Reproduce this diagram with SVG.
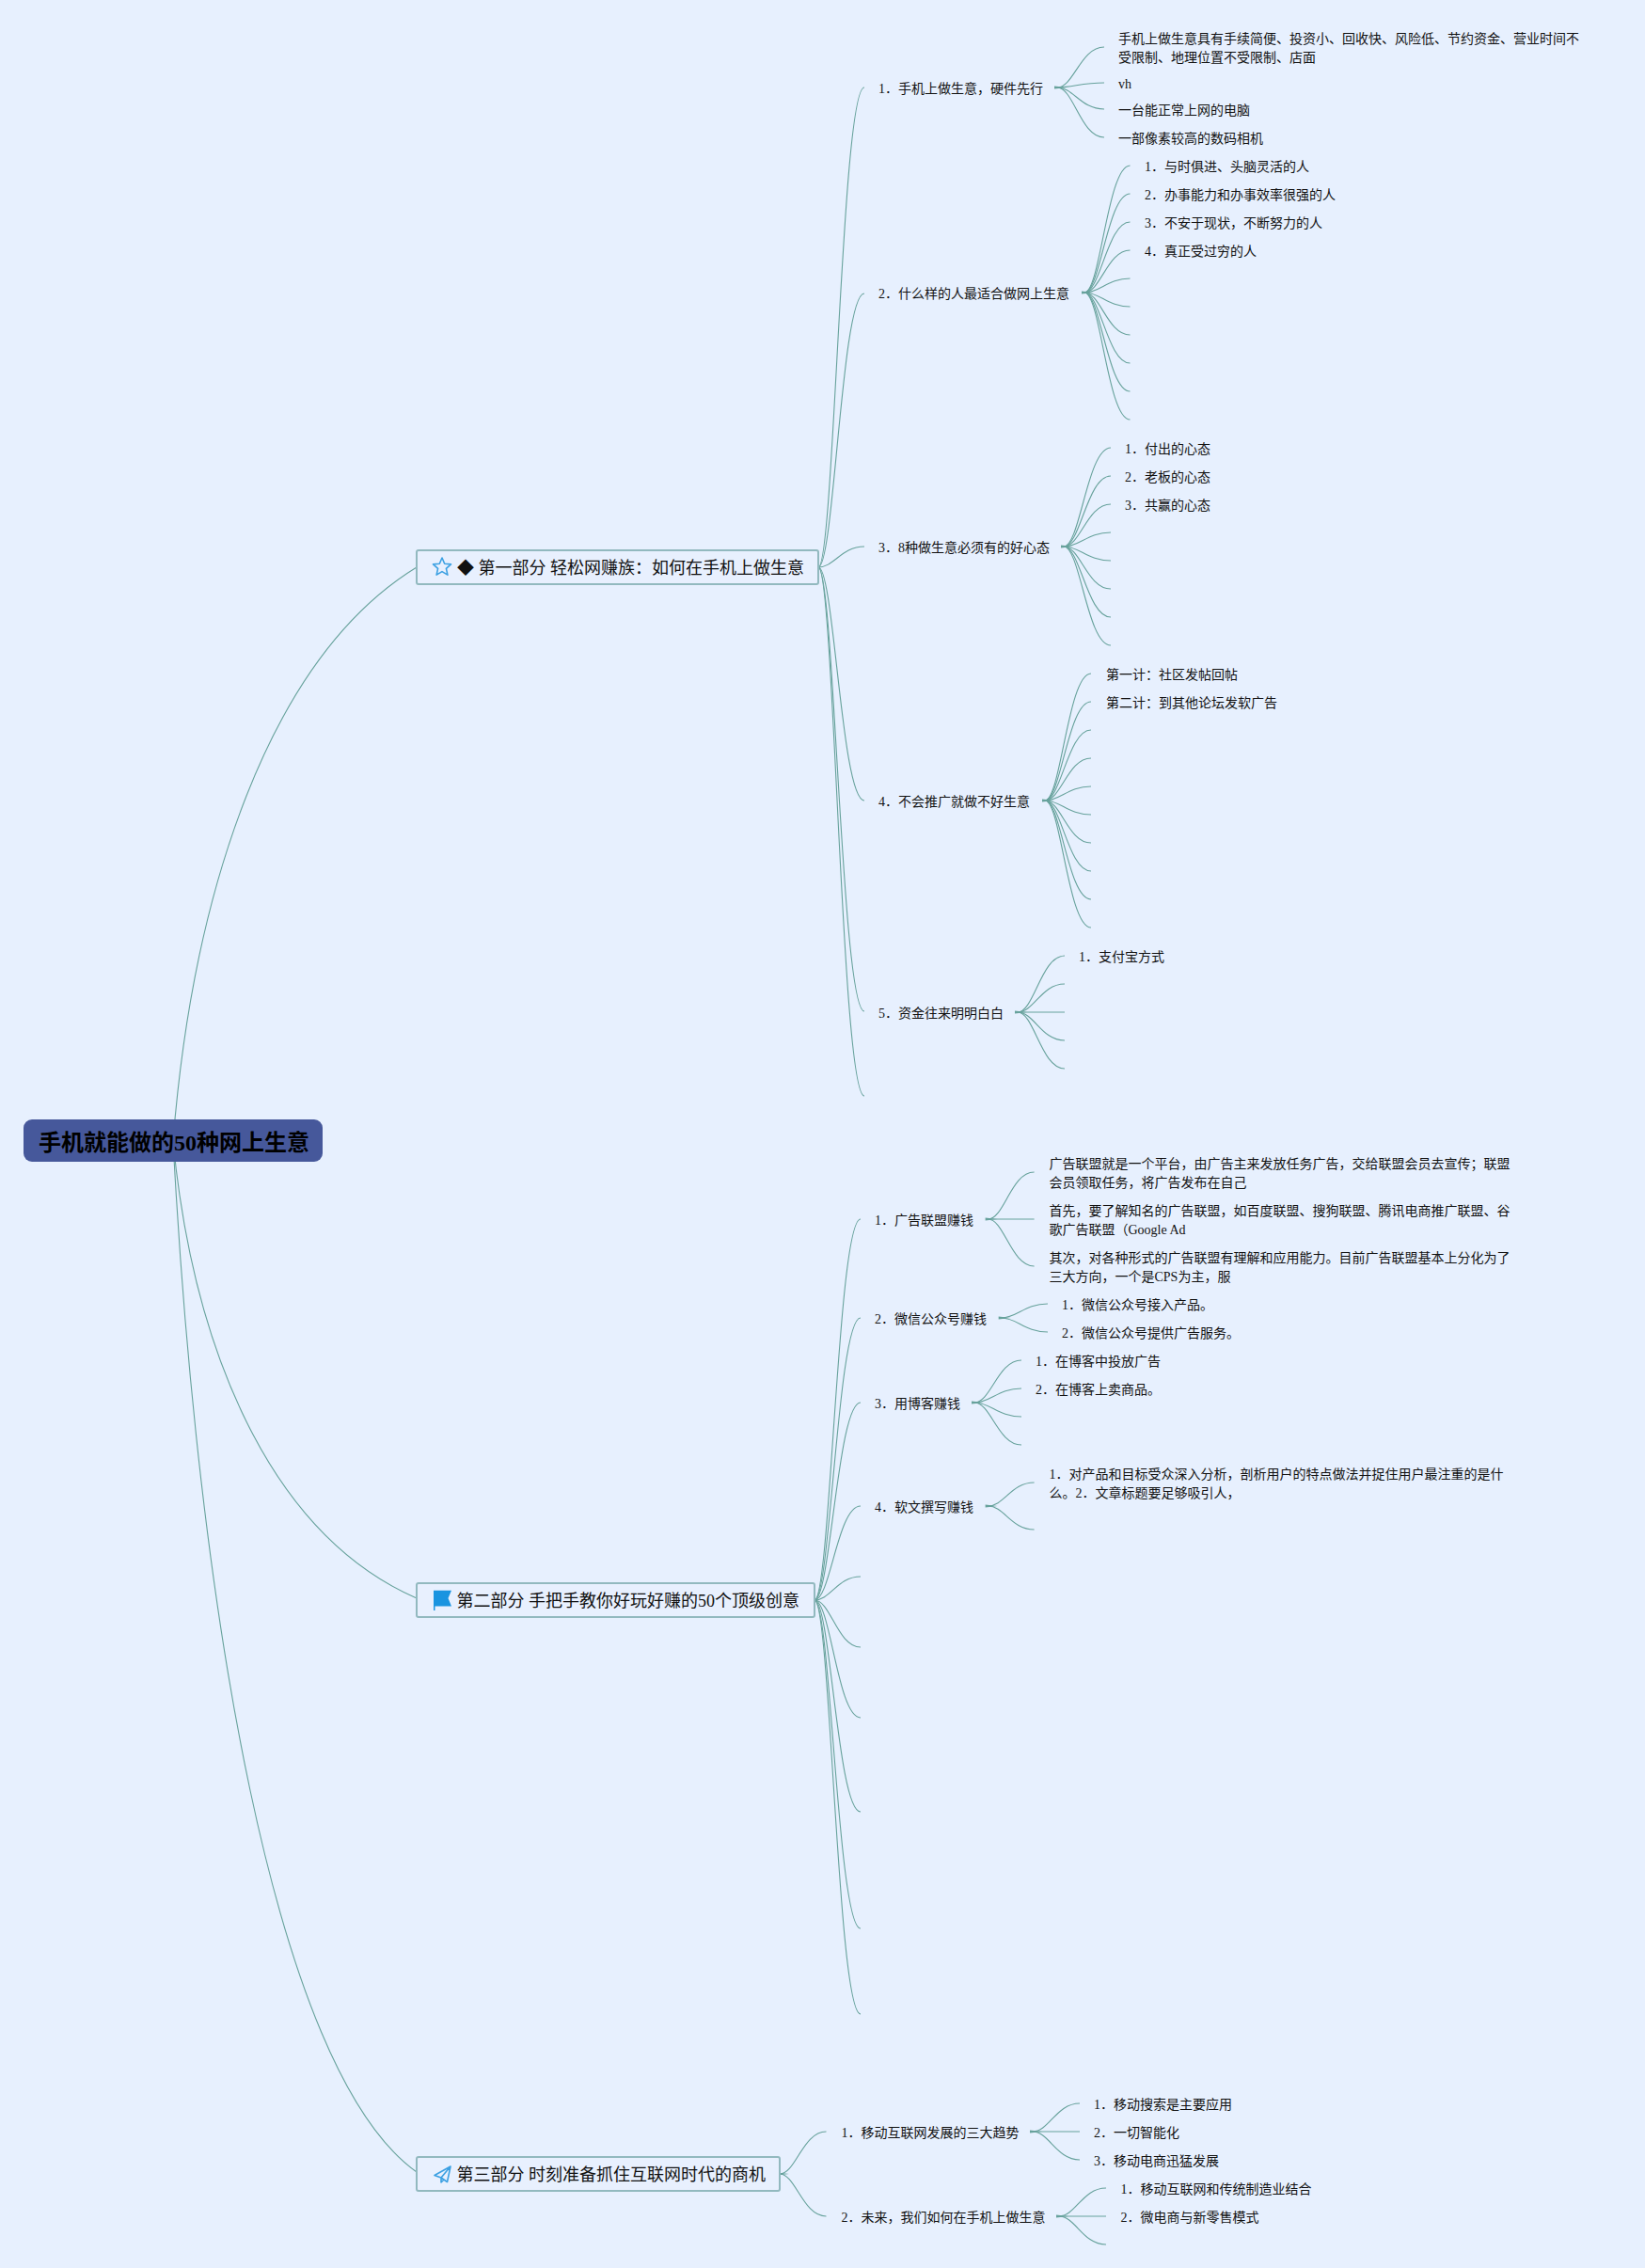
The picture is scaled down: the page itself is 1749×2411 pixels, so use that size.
<svg xmlns="http://www.w3.org/2000/svg" width="1749" height="2411" viewBox="0 0 1749 2411">
<style>
text{font-family:"Liberation Serif","Noto Sans CJK SC",serif;fill:#111;font-size:14px}
.root{font-size:24px;font-weight:700;fill:#000}
.main{font-size:18px}
.box{fill:#e8f0fe;stroke:#92b9bf;stroke-width:2}
.c{fill:none;stroke:#67a29c;stroke-width:1.1}
.st{fill:#67a29c;stroke:none}
.ic{fill:none;stroke:#3ba0e2;stroke-width:1.6;stroke-linejoin:round;stroke-linecap:round}
</style>
<defs>
<path id="stub" d="M-3 -1.6L10 0L-3 1.6Z"/>
</defs>
<rect width="1749" height="2411" fill="#e7f0fe"/>
<g id="connectors">
<path class="c" d="M184 1213C205 950 285 700 443 603"/>
<path class="c" d="M184 1213C205 1430 285 1630 443 1699"/>
<path class="c" d="M184 1213C210 1700 290 2200 443 2309"/>
<path class="c" d="M870 603c17 0 24.500 -510 49 -510"/>
<path class="c" d="M870 603c17 0 24.500 -291 49 -291"/>
<path class="c" d="M870 603c17 0 24.500 -22 49 -22"/>
<path class="c" d="M870 603c17 0 24.500 248 49 248"/>
<path class="c" d="M870 603c17 0 24.500 472 49 472"/>
<path class="c" d="M870 603c17 0 24.500 562 49 562"/>
<path class="c" d="M1124 93c17.500 0 25 -43 50 -43"/>
<path class="c" d="M1124 93c17.500 0 25 -5 50 -5"/>
<path class="c" d="M1124 93c17.500 0 25 23 50 23"/>
<path class="c" d="M1124 93c17.500 0 25 53 50 53"/>
<use href="#stub" class="st" x="1124" y="93"/>
<path class="c" d="M1153 311c17 0 24.500 -135 48.500 -135"/>
<path class="c" d="M1153 311c17 0 24.500 -105 48.500 -105"/>
<path class="c" d="M1153 311c17 0 24.500 -75 48.500 -75"/>
<path class="c" d="M1153 311c17 0 24.500 -45 48.500 -45"/>
<path class="c" d="M1153 311c17 0 24.500 -15 48.500 -15"/>
<path class="c" d="M1153 311c17 0 24.500 15 48.500 15"/>
<path class="c" d="M1153 311c17 0 24.500 45 48.500 45"/>
<path class="c" d="M1153 311c17 0 24.500 75 48.500 75"/>
<path class="c" d="M1153 311c17 0 24.500 105 48.500 105"/>
<path class="c" d="M1153 311c17 0 24.500 135 48.500 135"/>
<use href="#stub" class="st" x="1153" y="311"/>
<path class="c" d="M1131 581c17.500 0 25 -105 50 -105"/>
<path class="c" d="M1131 581c17.500 0 25 -75 50 -75"/>
<path class="c" d="M1131 581c17.500 0 25 -45 50 -45"/>
<path class="c" d="M1131 581c17.500 0 25 -15 50 -15"/>
<path class="c" d="M1131 581c17.500 0 25 15 50 15"/>
<path class="c" d="M1131 581c17.500 0 25 45 50 45"/>
<path class="c" d="M1131 581c17.500 0 25 75 50 75"/>
<path class="c" d="M1131 581c17.500 0 25 105 50 105"/>
<use href="#stub" class="st" x="1131" y="581"/>
<path class="c" d="M1111 851c17 0 24.500 -135 49 -135"/>
<path class="c" d="M1111 851c17 0 24.500 -105 49 -105"/>
<path class="c" d="M1111 851c17 0 24.500 -75 49 -75"/>
<path class="c" d="M1111 851c17 0 24.500 -45 49 -45"/>
<path class="c" d="M1111 851c17 0 24.500 -15 49 -15"/>
<path class="c" d="M1111 851c17 0 24.500 15 49 15"/>
<path class="c" d="M1111 851c17 0 24.500 45 49 45"/>
<path class="c" d="M1111 851c17 0 24.500 75 49 75"/>
<path class="c" d="M1111 851c17 0 24.500 105 49 105"/>
<path class="c" d="M1111 851c17 0 24.500 135 49 135"/>
<use href="#stub" class="st" x="1111" y="851"/>
<path class="c" d="M1082 1076c17.500 0 25 -60 50 -60"/>
<path class="c" d="M1082 1076c17.500 0 25 -30 50 -30"/>
<path class="c" d="M1082 1076h50" stroke-width="1.6"/>
<path class="c" d="M1082 1076c17.500 0 25 30 50 30"/>
<path class="c" d="M1082 1076c17.500 0 25 60 50 60"/>
<use href="#stub" class="st" x="1082" y="1076"/>
<path class="c" d="M866 1701c17 0 24.500 -405 49 -405"/>
<path class="c" d="M866 1701c17 0 24.500 -300 49 -300"/>
<path class="c" d="M866 1701c17 0 24.500 -210 49 -210"/>
<path class="c" d="M866 1701c17 0 24.500 -100 49 -100"/>
<path class="c" d="M866 1701c17 0 24.500 -25 49 -25"/>
<path class="c" d="M866 1701c17 0 24.500 50 49 50"/>
<path class="c" d="M866 1701c17 0 24.500 125 49 125"/>
<path class="c" d="M866 1701c17 0 24.500 225 49 225"/>
<path class="c" d="M866 1701c17 0 24.500 349 49 349"/>
<path class="c" d="M866 1701c17 0 24.500 440 49 440"/>
<path class="c" d="M1050.600 1296c17 0 24.500 -50 49 -50"/>
<path class="c" d="M1050.600 1296h49" stroke-width="1.6"/>
<path class="c" d="M1050.600 1296c17 0 24.500 50 49 50"/>
<use href="#stub" class="st" x="1050.600" y="1296"/>
<path class="c" d="M1064.700 1401c17 0 24.500 -15 49.300 -15"/>
<path class="c" d="M1064.700 1401c17 0 24.500 15 49.300 15"/>
<use href="#stub" class="st" x="1064.700" y="1401"/>
<path class="c" d="M1036 1491c17.500 0 25 -45 50 -45"/>
<path class="c" d="M1036 1491c17.500 0 25 -15 50 -15"/>
<path class="c" d="M1036 1491c17.500 0 25 15 50 15"/>
<path class="c" d="M1036 1491c17.500 0 25 45 50 45"/>
<use href="#stub" class="st" x="1036" y="1491"/>
<path class="c" d="M1050.600 1601c17 0 24.500 -25 49 -25"/>
<path class="c" d="M1050.600 1601c17 0 24.500 25 49 25"/>
<use href="#stub" class="st" x="1050.600" y="1601"/>
<path class="c" d="M829 2311c17 0 24.500 -45 49.500 -45"/>
<path class="c" d="M829 2311c17 0 24.500 45 49.500 45"/>
<use href="#stub" class="st" x="829" y="2311"/>
<path class="c" d="M1098 2266c17.500 0 25 -30 50 -30"/>
<path class="c" d="M1098 2266h50" stroke-width="1.6"/>
<path class="c" d="M1098 2266c17.500 0 25 30 50 30"/>
<use href="#stub" class="st" x="1098" y="2266"/>
<path class="c" d="M1126 2356c17.500 0 25 -30 50 -30"/>
<path class="c" d="M1126 2356h50" stroke-width="1.6"/>
<path class="c" d="M1126 2356c17.500 0 25 30 50 30"/>
<use href="#stub" class="st" x="1126" y="2356"/>
</g>
<g id="root"><rect x="25" y="1190" width="318" height="45" rx="9" fill="#46589b"/><text class="root" x="41" y="1223">手机就能做的50种网上生意</text></g>
<g id="part1"><rect class="box" x="443" y="585" width="427" height="36" rx="2"/><path class="ic" d="M470 593L472.700 599.300L479.500 599.900L474.400 604.400L475.900 611.100L470 607.600L464.100 611.100L465.600 604.400L460.500 599.900L467.300 599.300Z"/><text class="main" x="486" y="610">◆ 第一部分 轻松网赚族：如何在手机上做生意</text></g>
<g id="part2"><rect class="box" x="443" y="1683" width="423" height="36" rx="2"/><path d="M461 1690.700H480L476.500 1699L480 1707.500H462.500V1712H461Z" fill="#1a94e0"/><text class="main" x="485.500" y="1708">第二部分 手把手教你好玩好赚的50个顶级创意</text></g>
<g id="part3"><rect class="box" x="443" y="2293" width="386" height="36" rx="2"/><path class="ic" d="M479 2303L462 2312.500L469 2315L475.500 2319.500ZM479 2303L469 2315V2320L472 2317"/><text class="main" x="485.500" y="2318">第三部分 时刻准备抓住互联网时代的商机</text></g>
<g id="a1"><text x="934" y="99">1．手机上做生意，硬件先行</text></g>
<g id="a1-1"><text x="1189" y="46">手机上做生意具有手续简便、投资小、回收快、风险低、节约资金、营业时间不</text><text x="1189" y="66">受限制、地理位置不受限制、店面</text></g>
<g id="a1-2"><text x="1189" y="94">vh</text></g>
<g id="a1-3"><text x="1189" y="122">一台能正常上网的电脑</text></g>
<g id="a1-4"><text x="1189" y="152">一部像素较高的数码相机</text></g>
<g id="a2"><text x="934" y="317">2．什么样的人最适合做网上生意</text></g>
<g id="a2-1"><text x="1217" y="182">1．与时俱进、头脑灵活的人</text></g>
<g id="a2-2"><text x="1217" y="212">2．办事能力和办事效率很强的人</text></g>
<g id="a2-3"><text x="1217" y="242">3．不安于现状，不断努力的人</text></g>
<g id="a2-4"><text x="1217" y="272">4．真正受过穷的人</text></g>
<g id="a3"><text x="934" y="587">3．8种做生意必须有的好心态</text></g>
<g id="a3-1"><text x="1196" y="482">1．付出的心态</text></g>
<g id="a3-2"><text x="1196" y="512">2．老板的心态</text></g>
<g id="a3-3"><text x="1196" y="542">3．共赢的心态</text></g>
<g id="a4"><text x="934" y="857">4．不会推广就做不好生意</text></g>
<g id="a4-1"><text x="1176" y="722">第一计：社区发帖回帖</text></g>
<g id="a4-2"><text x="1176" y="752">第二计：到其他论坛发软广告</text></g>
<g id="a5"><text x="934" y="1082">5．资金往来明明白白</text></g>
<g id="a5-1"><text x="1147" y="1022">1．支付宝方式</text></g>
<g id="b1"><text x="930" y="1302">1．广告联盟赚钱</text></g>
<g id="b1-1"><text x="1115.500" y="1242">广告联盟就是一个平台，由广告主来发放任务广告，交给联盟会员去宣传；联盟</text><text x="1115.500" y="1262">会员领取任务，将广告发布在自己</text></g>
<g id="b1-2"><text x="1115.500" y="1292">首先，要了解知名的广告联盟，如百度联盟、搜狗联盟、腾讯电商推广联盟、谷</text><text x="1115.500" y="1312">歌广告联盟（Google Ad</text></g>
<g id="b1-3"><text x="1115.500" y="1342">其次，对各种形式的广告联盟有理解和应用能力。目前广告联盟基本上分化为了</text><text x="1115.500" y="1362">三大方向，一个是CPS为主，服</text></g>
<g id="b2"><text x="930" y="1407">2．微信公众号赚钱</text></g>
<g id="b2-1"><text x="1129" y="1392">1．微信公众号接入产品。</text></g>
<g id="b2-2"><text x="1129" y="1422">2．微信公众号提供广告服务。</text></g>
<g id="b3"><text x="930" y="1497">3．用博客赚钱</text></g>
<g id="b3-1"><text x="1101" y="1452">1．在博客中投放广告</text></g>
<g id="b3-2"><text x="1101" y="1482">2．在博客上卖商品。</text></g>
<g id="b4"><text x="930" y="1607">4．软文撰写赚钱</text></g>
<g id="b4-1"><text x="1115.500" y="1572">1．对产品和目标受众深入分析，剖析用户的特点做法并捉住用户最注重的是什</text><text x="1115.500" y="1592">么。2．文章标题要足够吸引人，</text></g>
<g id="c1"><text x="894.500" y="2272">1．移动互联网发展的三大趋势</text></g>
<g id="c1-1"><text x="1163" y="2242">1．移动搜索是主要应用</text></g>
<g id="c1-2"><text x="1163" y="2272">2．一切智能化</text></g>
<g id="c1-3"><text x="1163" y="2302">3．移动电商迅猛发展</text></g>
<g id="c2"><text x="894.500" y="2362">2．未来，我们如何在手机上做生意</text></g>
<g id="c2-1"><text x="1191.500" y="2332">1．移动互联网和传统制造业结合</text></g>
<g id="c2-2"><text x="1191.500" y="2362">2．微电商与新零售模式</text></g>
</svg>
